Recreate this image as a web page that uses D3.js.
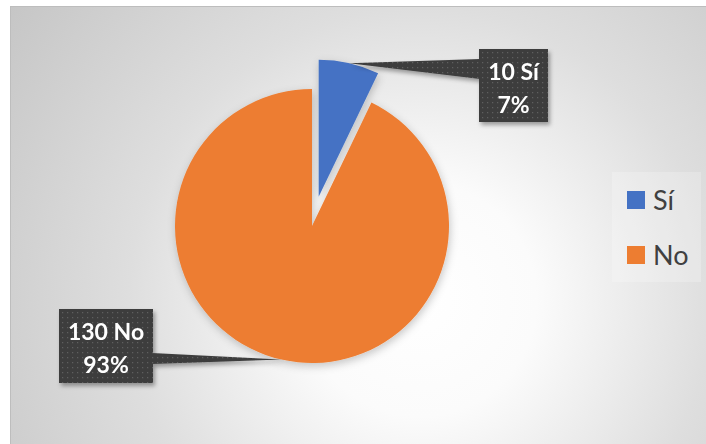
<!DOCTYPE html>
<html>
<head>
<meta charset="utf-8">
<script src="https://cdn.jsdelivr.net/npm/d3@7"></script>
<style>
  html, body { margin: 0; padding: 0; background: #ffffff; }
  svg { display: block; }
</style>
</head>
<body>
<svg id="chart" width="706" height="444"></svg>
<script>
// Survey answers
const categories = ["Sí", "No"];
const values = [10, 130];
const sliceColors = ["#4472C4", "#ED7D31"];
const explodeBy = [30, 0];

const W = 706, H = 444;
const svg = d3.select("#chart");
const defs = svg.append("defs");

// Background radial gradient of the chart area
const bg = defs.append("radialGradient")
  .attr("id", "bgGrad")
  .attr("gradientUnits", "userSpaceOnUse")
  .attr("cx", 420).attr("cy", 300).attr("r", 530);
[[0, "#ffffff"], [0.22, "#fbfbfb"], [0.55, "#dedede"], [1, "#c3c3c3"]]
  .forEach(([o, c]) => bg.append("stop").attr("offset", o).attr("stop-color", c));

// Soft shadow under the pie
const pieShadow = defs.append("filter").attr("id", "pieShadow")
  .attr("x", "-20%").attr("y", "-20%").attr("width", "140%").attr("height", "140%");
pieShadow.append("feDropShadow")
  .attr("dx", 1).attr("dy", 3).attr("stdDeviation", 4)
  .attr("flood-color", "#000").attr("flood-opacity", 0.22);

// Shadow under the callouts
const boxShadow = defs.append("filter").attr("id", "boxShadow")
  .attr("x", "-20%").attr("y", "-20%").attr("width", "150%").attr("height", "150%");
boxShadow.append("feDropShadow")
  .attr("dx", 2).attr("dy", 3).attr("stdDeviation", 2)
  .attr("flood-color", "#000").attr("flood-opacity", 0.35);

// Dotted dark fill of the callouts
const dots = defs.append("pattern").attr("id", "dots")
  .attr("patternUnits", "userSpaceOnUse").attr("width", 5).attr("height", 5);
dots.append("rect").attr("width", 5).attr("height", 5).attr("fill", "#3d3d3d");
dots.append("rect").attr("x", 2).attr("y", 2).attr("width", 1.2).attr("height", 1.2).attr("fill", "#5e5e5e");

// Chart area
svg.append("rect")
  .attr("x", 10.5).attr("y", 6.5).attr("width", W).attr("height", H)
  .attr("fill", "url(#bgGrad)").attr("stroke", "#bdbdbd").attr("stroke-width", 1);

// Pie
const cx = 312, cy = 226, radius = 137;
const total = d3.sum(values);
const pie = d3.pie().sort(null).value(d => d)(values);
const arc = d3.arc().innerRadius(0).outerRadius(radius);

const slices = pie.map((p, i) => {
  const mid = (p.startAngle + p.endAngle) / 2;
  const ox = cx + Math.sin(mid) * explodeBy[i];
  const oy = cy - Math.cos(mid) * explodeBy[i];
  return { p, i, mid, ox, oy,
    tipX: ox + Math.sin(mid) * radius,
    tipY: oy - Math.cos(mid) * radius };
});

const pieG = svg.append("g").attr("filter", "url(#pieShadow)");
pieG.selectAll("path").data(slices).join("path")
  .attr("transform", d => `translate(${d.ox},${d.oy})`)
  .attr("d", d => arc(d.p))
  .attr("fill", d => sliceColors[d.i]);

// Callout labels: count + category on top, percentage below
const fmtPct = d3.format(".0%");
const calloutLayout = [
  { x: 479, y: 49, h: 73, anchor: "left", w0: 10, w1: 30 },
  { right: 153, y: 309, h: 74, anchor: "right", w0: 44, w1: 55 }
];

slices.forEach((s, k) => {
  const L = calloutLayout[k];
  const g = svg.append("g").attr("filter", "url(#boxShadow)");
  const wedge = g.append("path").attr("fill", "url(#dots)");
  const box = g.append("rect").attr("fill", "url(#dots)");
  const line1 = `${values[s.i]} ${categories[s.i]}`;
  const line2 = fmtPct(values[s.i] / total);
  const t1 = g.append("text").text(line1);
  const t2 = g.append("text").text(line2);
  [t1, t2].forEach(t => t
    .attr("font-family", "Lato, 'Liberation Sans', sans-serif")
    .attr("font-weight", "bold").attr("font-size", 23)
    .attr("fill", "#ffffff").attr("text-anchor", "middle"));
  const tw = Math.max(t1.node().getComputedTextLength(), t2.node().getComputedTextLength());
  const bw = Math.round(tw + 18);
  const bx = L.anchor === "left" ? L.x : L.right - bw;
  box.attr("x", bx).attr("y", L.y).attr("width", bw).attr("height", L.h);
  t1.attr("x", bx + bw / 2).attr("y", L.y + 31);
  t2.attr("x", bx + bw / 2).attr("y", L.y + 64);
  const edgeX = L.anchor === "left" ? bx + 1 : bx + bw - 1;
  wedge.attr("d", `M${s.tipX},${s.tipY}L${edgeX},${L.y + L.w0}L${edgeX},${L.y + L.w1}Z`);
});

// Legend
const legend = svg.append("g");
legend.append("rect")
  .attr("x", 612).attr("y", 172).attr("width", 89).attr("height", 110)
  .attr("fill", "#ffffff").attr("fill-opacity", 0.22);
const legendY = d3.scalePoint().domain(categories).range([200, 255]);
categories.forEach((c, i) => {
  legend.append("rect")
    .attr("x", 627).attr("y", legendY(c) - 9).attr("width", 18).attr("height", 18)
    .attr("fill", sliceColors[i]);
  legend.append("text")
    .attr("x", 653).attr("y", legendY(c) + 10)
    .attr("font-family", "Lato, 'Liberation Sans', sans-serif")
    .attr("font-size", 27).attr("fill", "#404040")
    .text(c);
});
</script>
</body>
</html>
